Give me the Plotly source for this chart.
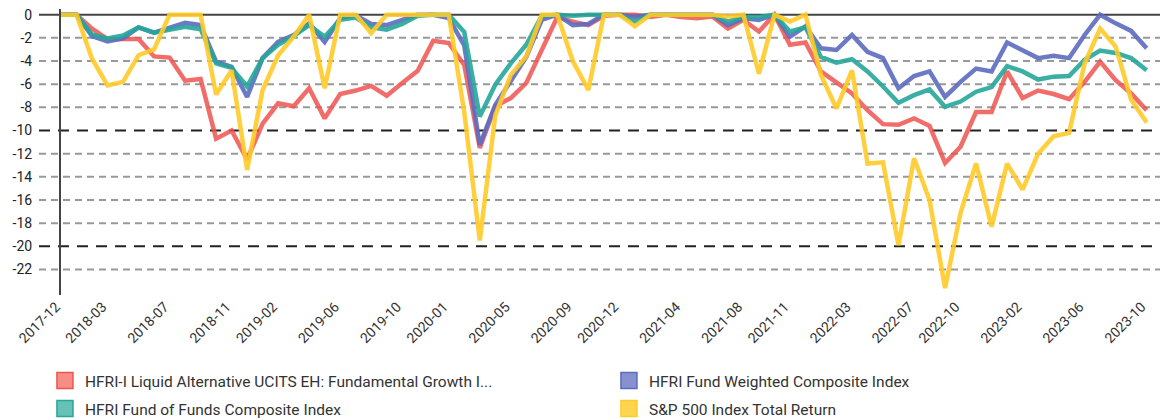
import plotly.graph_objects as go
import pandas as pd

months = [p.strftime("%Y-%m") for p in pd.period_range("2017-12", "2023-10", freq="M")]

tick_labels = ["2017-12", "2018-03", "2018-07", "2018-11", "2019-02", "2019-06", "2019-10",
               "2020-01", "2020-05", "2020-09", "2020-12", "2021-04", "2021-08", "2021-11",
               "2022-03", "2022-07", "2022-10", "2023-02", "2023-06", "2023-10"]

y_ticks = [0, -2, -4, -6, -8, -10, -12, -14, -16, -18, -20, -22]

ucits = [0, 0, -1.2, -2.1, -2.1, -2.1, -3.6, -3.7, -5.7, -5.55, -10.7, -10.0,
         -12.5, -9.4, -7.65, -7.9, -6.35, -8.95, -6.85, -6.55, -6.15, -7.0, -5.9, -4.85,
         -2.25, -2.45, -4.35, -11.5, -7.9, -7.2, -5.9, -3.05, -0.2, -0.6, -0.9, -0.1,
         0, 0, -0.2, 0, -0.2, -0.3, -0.15, -1.2, -0.45, -1.45, 0, -2.6,
         -2.4, -4.9, -5.8, -6.8, -8.25, -9.45, -9.5, -8.95, -9.6, -12.8, -11.4, -8.4,
         -8.4, -4.9, -7.2, -6.55, -6.85, -7.3, -5.8, -4.05, -5.65, -6.8, -8.25]

fund_weighted = [0, 0, -1.85, -2.3, -2.05, -1.1, -1.55, -1.1, -0.7, -0.9, -4.05, -4.5,
                 -7.1, -3.75, -2.35, -1.75, -0.75, -2.35, -0.3, -0.05, -0.8, -0.9, -0.45, 0,
                 0, -0.3, -2.65, -11.25, -7.8, -5.65, -3.65, -0.45, 0, -0.9, -0.8, 0,
                 0, -0.2, 0, 0, 0, 0, 0, -0.9, -0.3, -0.45, 0, -1.9,
                 -1.0, -2.9, -3.05, -1.75, -3.2, -3.75, -6.35, -5.3, -4.9, -7.1, -5.8, -4.65,
                 -4.9, -2.4, -3.05, -3.75, -3.55, -3.75, -1.75, 0, -0.75, -1.4, -2.9]

fund_of_funds = [0, 0, -1.7, -2.05, -1.8, -1.1, -1.55, -1.3, -1.05, -1.25, -4.2, -4.6,
                 -6.2, -3.75, -2.6, -1.85, -0.9, -1.9, -0.45, -0.25, -1.1, -1.3, -0.8, -0.1,
                 0, 0, -1.5, -8.8, -6.05, -4.2, -2.6, -0.1, 0, -0.1, 0, 0,
                 0, -0.6, 0, 0, 0, 0, 0, -0.6, -0.2, -0.2, 0, -1.45,
                 -1.1, -3.65, -4.15, -3.85, -4.9, -6.2, -7.6, -6.95, -6.45, -7.95, -7.5, -6.65,
                 -6.25, -4.45, -4.9, -5.6, -5.35, -5.3, -3.9, -3.1, -3.3, -3.75, -4.8]

sp500 = [0, 0, -3.8, -6.1, -5.8, -3.5, -3.0, 0, 0, 0, -6.9, -4.8,
         -13.4, -6.5, -3.5, -1.9, 0, -6.35, 0, 0, -1.6, 0, 0, 0,
         0, 0, -8.4, -19.5, -8.7, -5.2, -3.6, 0, 0, -4.0, -6.5, 0,
         0, -1.0, 0, 0, 0, 0, 0, -0.15, 0, -5.1, 0, -0.6,
         0, -5.2, -8.1, -4.8, -12.85, -12.75, -19.9, -12.4, -16.0, -23.6, -17.1, -12.85,
         -18.3, -12.85, -15.1, -12.0, -10.5, -10.2, -4.2, -1.2, -2.75, -7.35, -9.3]

series = [
    ("HFRI-I Liquid Alternative UCITS EH: Fundamental Growth I...", ucits,
     "rgba(239,83,80,0.85)", "rgba(245,130,120,0.9)", "#EF5350", "legend"),
    ("HFRI Fund Weighted Composite Index", fund_weighted,
     "rgba(92,107,192,0.9)", "rgba(136,145,208,1)", "#5C6BC0", "legend"),
    ("HFRI Fund of Funds Composite Index", fund_of_funds,
     "rgba(38,166,154,0.9)", "rgba(102,194,181,1)", "#26A69A", "legend2"),
    ("S&P 500 Index Total Return", sp500,
     "rgba(255,202,40,0.9)", "rgba(255,213,79,1)", "#FFCA28", "legend2"),
]

fig = go.Figure()
for name, vals, lc, fill, border, lg in series:
    fig.add_trace(go.Scatter(x=months, y=vals, mode="lines", name=name,
                             line=dict(color=lc, width=4.5), showlegend=False,
                             hoverinfo="x+y"))
for name, vals, lc, fill, border, lg in series:
    fig.add_trace(go.Scatter(x=[None], y=[None], mode="markers", name=name, legend=lg,
                             marker=dict(symbol="square", size=16, color=fill,
                                         line=dict(color=border, width=1.5)),
                             showlegend=True))

shapes = []
x0p = (31 - 53) / 1099
for v in y_ticks:
    if v == 0:
        shapes.append(dict(type="line", xref="paper", yref="y", x0=x0p, x1=1, y0=v, y1=v,
                           line=dict(color="#444444", width=2), layer="below"))
    elif v in (-10, -20):
        shapes.append(dict(type="line", xref="paper", yref="y", x0=x0p, x1=1, y0=v, y1=v,
                           line=dict(color="#222222", width=2, dash="11px,8px"), layer="below"))
    else:
        shapes.append(dict(type="line", xref="paper", yref="y", x0=x0p, x1=1, y0=v, y1=v,
                           line=dict(color="#999999", width=2, dash="7px,5px"), layer="below"))

legend_common = dict(orientation="h", x=-0.0146, xanchor="left", yanchor="top",
                     entrywidth=519, entrywidthmode="pixels",
                     font=dict(size=15.5, color="#333333"), itemclick=False)

fig.update_layout(
    width=1160, height=412,
    margin=dict(l=53, r=8, t=1, b=125, autoexpand=False),
    paper_bgcolor="white", plot_bgcolor="white",
    font=dict(family="Roboto, sans-serif", size=14, color="#333333"),
    shapes=shapes,
    xaxis=dict(type="category", range=[0, 70.86], tickmode="array", tickvals=tick_labels,
               ticktext=tick_labels, tickangle=-45, showgrid=False, zeroline=False,
               showline=False, ticks="", ticklabelshift=-5, automargin=False,
               tickfont=dict(size=14, color="#333333")),
    yaxis=dict(range=[-24.2, 0.49], tickmode="array", tickvals=y_ticks,
               ticktext=[str(v) for v in y_ticks], showgrid=False, zeroline=False,
               showline=True, linecolor="#444444", linewidth=2, ticks="", automargin=False,
               ticklabeloverflow="allow",
               ticklabelstandoff=24, tickfont=dict(size=14, color="#222222")),
    legend=dict(y=-0.241, **legend_common),
    legend2=dict(y=-0.339, **legend_common),
    showlegend=True,
)

fig.write_html("out.html")
